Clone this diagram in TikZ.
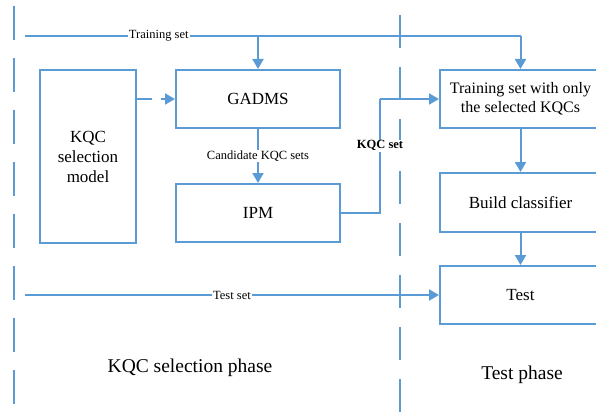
\documentclass[tikz,border=0pt]{standalone}
\usepackage{fontspec}
\setmainfont{Liberation Serif}
\usetikzlibrary{arrows.meta}
\definecolor{lblue}{RGB}{91,155,213}
\begin{document}
\begin{tikzpicture}[x=1pt,y=-1pt,
  conn/.style={draw=lblue,line width=2pt},
  arr/.style={conn,-{Triangle[length=10pt,width=11pt]}},
  boxn/.style={draw=lblue,line width=2pt,rectangle,inner sep=0pt,align=center,font=\fontsize{17}{20}\selectfont},
  lbl/.style={fill=white,inner sep=1pt,font=\fontsize{12.5}{14}\selectfont},
  phase/.style={font=\fontsize{19.5}{22}\selectfont},
  divider/.style={draw=lblue,line width=2pt,dash pattern=on 34pt off 18pt}]
\useasboundingbox (0,0) rectangle (596,417);
% phase dividers
\coordinate (d1a) at (14,6);
\coordinate (d1b) at (14,417);
\coordinate (d2a) at (400,15);
\coordinate (d2b) at (400,417);
\draw[divider] (d1a) -- (d1b);
\draw[divider,dash pattern=on 33pt off 19pt] (d2a) -- (d2b);
% boxes
\node[boxn,minimum width=96pt,minimum height=172pt] (kqc) at (88,156.5) {KQC\\selection\\model};
\node[boxn,minimum width=164pt,minimum height=58pt] (gadms) at (258,99) {GADMS};
\node[boxn,minimum width=164pt,minimum height=58pt] (ipm) at (258,213) {IPM};
\node[boxn,minimum width=161pt,minimum height=58pt,font=\fontsize{16}{19}\selectfont] (tsel) at (520.5,99) {Training set with only\\the selected KQCs};
\node[boxn,minimum width=161pt,minimum height=59pt] (build) at (520.5,202.5) {Build classifier};
\node[boxn,minimum width=161pt,minimum height=58pt] (test) at (520.5,295) {Test};
% training set
\coordinate (ts) at (25,36);
\coordinate (tsc) at (520.5,36);
\draw[conn] (ts) -- node[lbl,pos=0.27] {Training set} (tsc);
\draw[arr] (tsc) -- (tsel.north);
\draw[arr] (gadms.north |- ts) -- (gadms.north);
% kqc model to gadms
\draw[arr,dash pattern=on 15pt off 9pt] (kqc.east |- gadms.west) -- (gadms.west);
% gadms to ipm
\draw[arr] (gadms.south) -- node[lbl] {Candidate KQC sets} (ipm.north);
% ipm to training set with only
\coordinate (k1) at (380,213);
\coordinate (k2) at (380,99);
\draw[conn] (ipm.east) -- (k1) -- node[lbl,pos=0.59,font=\fontsize{12.5}{14}\selectfont\bfseries] {KQC set} (k2);
\draw[arr] (k2) -- (tsel.west);
% right chain
\draw[arr] (tsel.south) -- (build.north);
\draw[arr] (build.south) -- (test.north);
% test set
\coordinate (tts) at (25,295);
\draw[arr] (tts) -- node[lbl,pos=0.5] {Test set} (test.west);
% phase labels
\node[phase] (p1) at (190,368) {KQC selection phase};
\node[phase] (p2) at (522,375) {Test phase};
\end{tikzpicture}
\end{document}
